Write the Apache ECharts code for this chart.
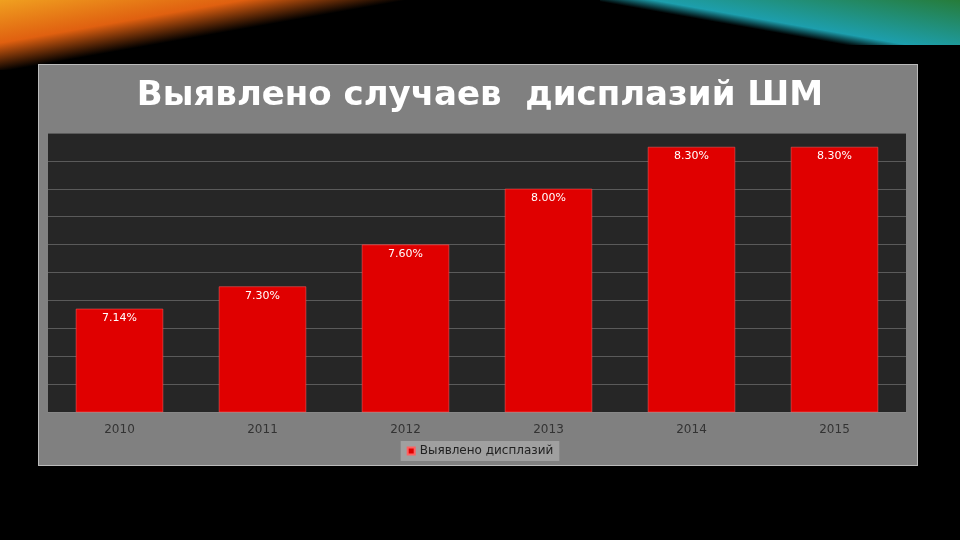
<!DOCTYPE html>
<html><head><meta charset="utf-8">
<script src="https://cdn.jsdelivr.net/npm/echarts@6/dist/echarts.min.js"></script>
<style>
html,body{margin:0;padding:0;background:#000;}
#deco{position:absolute;left:0;top:0;width:960px;height:70px;
background:linear-gradient(170deg,#f0a020 0%,#e06010 18%,#000 30%,#000 100%);}
#deco2{position:absolute;left:600px;top:0;width:360px;height:45px;
background:linear-gradient(190deg,#2a8a40 0%,#20b0c0 50%,#000 60%);opacity:.9;}
#panel{position:absolute;left:38px;top:64px;width:880px;height:402px;background:#808080;border:1px solid #bbb;box-sizing:border-box;}
#c{position:absolute;left:0;top:0;width:960px;height:540px;}
</style></head><body>
<div id="deco"></div><div id="deco2"></div><div id="panel"></div>
<div id="c"></div>
<script>
const categories=['2010','2011','2012','2013','2014','2015'];
const values=[7.14,7.30,7.60,8.00,8.30,8.30];
const seriesName='Выявлено дисплазий';
const titleText='Выявлено случаев  дисплазий ШМ';
const chart=echarts.init(document.getElementById('c'));
chart.setOption({
 backgroundColor:'transparent',
 title:{text:titleText,left:'center',top:74,textStyle:{color:'#fff',fontSize:34,fontWeight:'bold',fontFamily:'DejaVu Sans'}},
 grid:{left:48,right:54,top:133,bottom:128,show:true,backgroundColor:'#262626',borderWidth:0},
 legend:{data:[seriesName],bottom:79,left:'center',backgroundColor:'#a0a0a0',padding:[4,6],itemWidth:7,itemHeight:7,itemGap:4,icon:'rect',
   textStyle:{color:'#222',fontSize:12,fontFamily:'DejaVu Sans'}},
 xAxis:{type:'category',data:categories,axisLine:{lineStyle:{color:'#888'}},axisTick:{show:false},
   axisLabel:{color:'#333',fontSize:12,margin:12,fontFamily:'DejaVu Sans'}},
 yAxis:{type:'value',min:6.4,max:8.4,interval:0.2,axisLabel:{show:false},axisLine:{show:false},
   splitLine:{lineStyle:{color:'#5a5a5a'}}},
 series:[{name:seriesName,type:'bar',data:values,barWidth:'61%',
   itemStyle:{color:'#e00000',borderColor:'#ff6060',borderWidth:0.5},
   label:{show:true,position:'insideTop',distance:4,color:'#fff',fontSize:11,fontFamily:'DejaVu Sans',
     formatter:p=>p.value.toFixed(2)+'%'}}]
});
</script></body></html>
